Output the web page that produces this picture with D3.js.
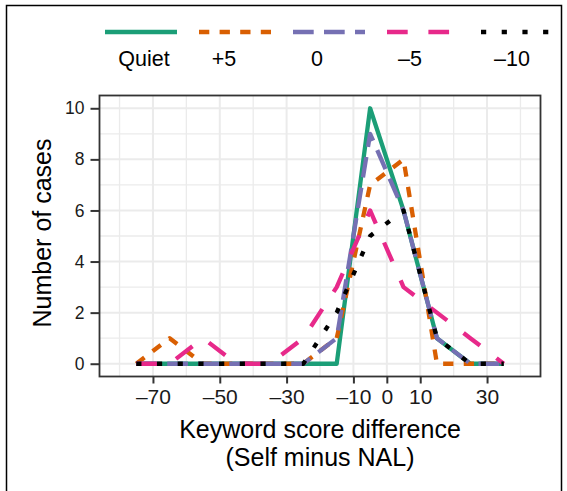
<!DOCTYPE html>
<html lang="en">
<head>
    <meta charset="UTF-8">
    <title>Keyword score difference</title>
    <script src="https://d3js.org/d3.v7.min.js"></script>
<style>
    body { margin: 0; background: #fff; }
    text { font-family: "Liberation Sans", Arial, sans-serif; }
</style>
</head>
<body>
</body>
<script>

// bin centres (binwidth 10) and counts per condition
const binMids = [-75, -65, -55, -45, -35, -25, -15, -5, 5, 15, 25, 35];
const quiet   = [0, 0, 0, 0, 0, 0, 0, 10, 6, 1, 0, 0];
const plus5   = [0, 1, 0, 0, 0, 0, 1, 7, 8, 0, 0, 0];
const zero    = [0, 0, 0, 0, 0, 0, 1, 9, 6, 1, 0, 0];
const minus5  = [0, 0, 1, 0, 0, 1, 3, 6, 3, 2, 1, 0];
const minus10 = [0, 0, 0, 0, 0, 0, 2, 5, 6, 1, 0, 0];

const seriesNames = ['Quiet', '+5', '0', '–5', '–10'];
const xTicks = [-70, -50, -30, -10, 0, 10, 30];
const xGrid = d3.range(-80, 41, 10);
const yTicks = [0, 2, 4, 6, 8, 10];
const yMinor = [1, 3, 5, 7, 9];

const colors = ['#1b9e77', '#d95f02', '#7570b3', '#e7298a', '#000000'];
const dashes = ['none', '10.3,10.3', '20.7,10.3', '20.7,20.7', '5.2,15.5'];
const legendLabelX = [144, 224, 317, 410, 512];

const series = [quiet, plus5, zero, minus5, minus10].map((vals, i) => ({
    name: seriesNames[i],
    points: binMids.map((x, j) => ({ x: x, y: vals[j] }))
}));

const W = 567, H = 491;
const panel = { left: 99.5, right: 540.5, top: 95.5, bottom: 376.5 };

const svg = d3.select('body').append('svg')
    .attr('width', W).attr('height', H);

// outer frame (cut off at the bottom of the figure)
svg.append('path')
    .attr('d', `M6.5,${H + 5}V5.5H561.5V${H + 5}`)
    .attr('fill', 'none')
    .attr('stroke', '#000')
    .attr('stroke-width', 1.5);

const x = d3.scaleLinear().domain([-86, 46]).range([panel.left, panel.right]);
const y = d3.scaleLinear().domain([-0.5, 10.5]).range([panel.bottom, panel.top]);

const fmt = v => v < 0 ? '–' + Math.abs(v) : String(v);

// grid
const grid = svg.append('g');
grid.selectAll('.ymin').data(yMinor).enter().append('line')
    .attr('x1', panel.left).attr('x2', panel.right)
    .attr('y1', d => y(d)).attr('y2', d => y(d))
    .attr('stroke', '#ebebeb').attr('stroke-width', 1.3);
grid.selectAll('.ymaj').data(yTicks).enter().append('line')
    .attr('x1', panel.left).attr('x2', panel.right)
    .attr('y1', d => y(d)).attr('y2', d => y(d))
    .attr('stroke', '#ebebeb').attr('stroke-width', 2);
grid.selectAll('.xg').data(xGrid).enter().append('line')
    .attr('x1', d => x(d)).attr('x2', d => x(d))
    .attr('y1', panel.top).attr('y2', panel.bottom)
    .attr('stroke', '#ebebeb')
    .attr('stroke-width', d => xTicks.includes(d) ? 2 : 1.3);

// lines
const line = d3.line().x(d => x(d.x)).y(d => y(d.y));
svg.append('g').selectAll('path')
    .data(series)
    .enter()
    .append('path')
    .attr('d', d => line(d.points))
    .attr('fill', 'none')
    .attr('stroke', (d, i) => colors[i])
    .attr('stroke-width', 4.3)
    .attr('stroke-dasharray', (d, i) => dashes[i])
    .attr('stroke-linejoin', 'round')
    .attr('stroke-linecap', 'butt');

// panel border
svg.append('rect')
    .attr('x', panel.left).attr('y', panel.top)
    .attr('width', panel.right - panel.left)
    .attr('height', panel.bottom - panel.top)
    .attr('fill', 'none')
    .attr('stroke', '#333')
    .attr('stroke-width', 1.8);

// x axis
const xAxis = svg.append('g')
    .attr('transform', `translate(0,${panel.bottom})`)
    .call(d3.axisBottom(x).tickValues(xTicks).tickFormat(fmt).tickSize(7).tickPadding(6));
xAxis.select('.domain').remove();
xAxis.selectAll('.tick line').attr('stroke', '#333').attr('stroke-width', 2);
xAxis.selectAll('.tick text')
    .attr('font-family', '"Liberation Sans", Arial, sans-serif')
    .attr('font-size', 21).attr('fill', '#1a1a1a');

// y axis
const yAxis = svg.append('g')
    .attr('transform', `translate(${panel.left},0)`)
    .call(d3.axisLeft(y).tickValues(yTicks).tickSize(9).tickPadding(6));
yAxis.select('.domain').remove();
yAxis.selectAll('.tick line').attr('stroke', '#333').attr('stroke-width', 2);
yAxis.selectAll('.tick text')
    .attr('font-family', '"Liberation Sans", Arial, sans-serif')
    .attr('font-size', 17.5).attr('fill', '#1a1a1a');

// axis titles
svg.append('text')
    .attr('x', (panel.left + panel.right) / 2).attr('y', 437.5)
    .attr('text-anchor', 'middle').attr('font-size', 25)
    .text('Keyword score difference');
svg.append('text')
    .attr('x', (panel.left + panel.right) / 2).attr('y', 465.5)
    .attr('text-anchor', 'middle').attr('font-size', 25)
    .text('(Self minus NAL)');
svg.append('text')
    .attr('transform', `translate(51,233) rotate(-90)`)
    .attr('text-anchor', 'middle').attr('font-size', 25)
    .text('Number of cases');

// legend
const legend = svg.append('g').selectAll('g')
    .data(series)
    .enter()
    .append('g');
legend.append('line')
    .attr('x1', (d, i) => 105 + 94 * i).attr('x2', (d, i) => 177 + 94 * i)
    .attr('y1', 32).attr('y2', 32)
    .attr('stroke', (d, i) => colors[i])
    .attr('stroke-width', 4.6)
    .attr('stroke-dasharray', (d, i) => dashes[i]);
legend.append('text')
    .attr('x', (d, i) => legendLabelX[i]).attr('y', 66)
    .attr('text-anchor', 'middle').attr('font-size', 21.5)
    .text(d => d.name);

</script>
</html>
